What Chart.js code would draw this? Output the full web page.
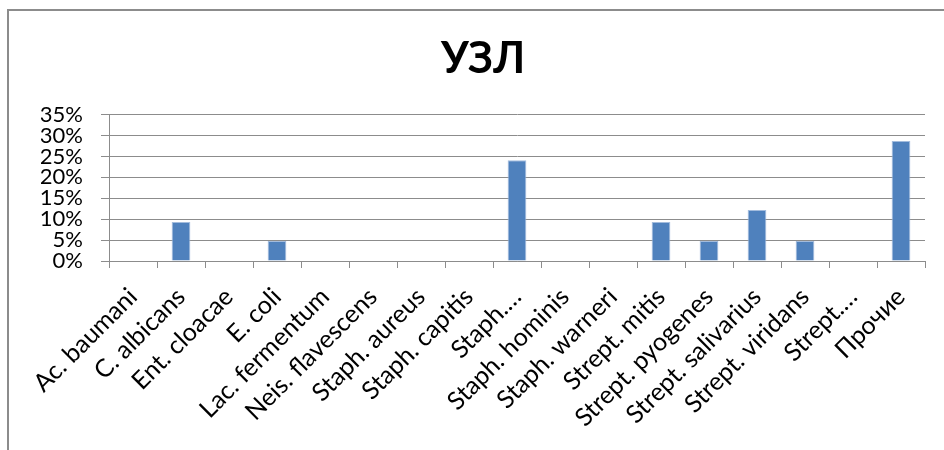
<!DOCTYPE html>
<html>
<head>
<meta charset="utf-8">
<script src="https://cdn.jsdelivr.net/npm/chart.js@4.4.0/dist/chart.umd.min.js"></script>
<style>
  html, body { margin: 0; padding: 0; background: #fff; }
  #frame {
    position: absolute; left: 7px; top: 9px; width: 960px; height: 460px;
    border-left: 2px solid #8c8c8c; border-top: 2px solid #8c8c8c;
  }
  #wrap { position: absolute; left: 0; top: 0; width: 944px; height: 450px; }
</style>
</head>
<body>
<div id="frame"></div>
<div id="wrap"><canvas id="uzlChart"></canvas></div>
<script>
// Данные
const categories = ['Ac. baumani', 'C. albicans', 'Ent. cloacae', 'E. coli', 'Lac. fermentum',
  'Neis. flavescens', 'Staph. aureus', 'Staph. capitis', 'Staph.…', 'Staph. hominis',
  'Staph. warneri', 'Strept. mitis', 'Strept. pyogenes', 'Strept. salivarius',
  'Strept. viridans', 'Strept.…', 'Прочие'];
const shares = [0, 9.3, 0, 4.8, 0, 0, 0, 0, 24.1, 0, 0, 9.3, 4.8, 12.2, 4.8, 0, 28.7];
const yTicks = [0, 5, 10, 15, 20, 25, 30, 35];

const fontFamily = 'Lato, "Open Sans", sans-serif';

const ctx = document.getElementById('uzlChart').getContext('2d');
const uzlChart = new Chart(ctx, {
  type: 'bar',
  data: {
    labels: categories,
    datasets: [{
      label: 'УЗЛ',
      data: shares,
      backgroundColor: '#4f81bd',
      borderColor: '#a3bcdd',
      borderWidth: 1,
      barPercentage: 0.39,
      categoryPercentage: 1
    }]
  },
  options: {
    responsive: true,
    maintainAspectRatio: false,
    animation: false,
    // левый отступ сдвигает заголовок вправо, как в оригинале
    layout: { padding: { left: 41, right: 19, top: 0, bottom: 0 } },
    plugins: {
      legend: { display: false },
      tooltip: { enabled: false },
      title: {
        display: true,
        text: 'УЗЛ',
        color: '#000',
        font: { family: fontFamily, size: 43, weight: 'bold', lineHeight: 1.2 },
        padding: { top: 33, bottom: 30 }
      }
    },
    scales: {
      x: {
        afterFit: axis => { axis.height = 189; },
        grid: { drawOnChartArea: false, color: '#8c8c8c', tickLength: 7, offset: true },
        border: { color: '#8c8c8c', width: 1 },
        ticks: {
          color: '#000',
          font: { family: fontFamily, size: 25 },
          maxRotation: 45, minRotation: 45,
          autoSkip: false, padding: 14
        }
      },
      y: {
        min: 0, max: 35,
        afterFit: axis => { axis.width = 68; },
        afterBuildTicks: axis => { axis.ticks = yTicks.map(v => ({ value: v })); },
        grid: { color: '#8c8c8c', tickLength: 8 },
        border: { color: '#8c8c8c', width: 1 },
        ticks: {
          color: '#000',
          font: { family: fontFamily, size: 22 },
          padding: 18,
          autoSkip: false,
          callback: v => v + '%'
        }
      }
    }
  }
});
</script>
</body>
</html>
